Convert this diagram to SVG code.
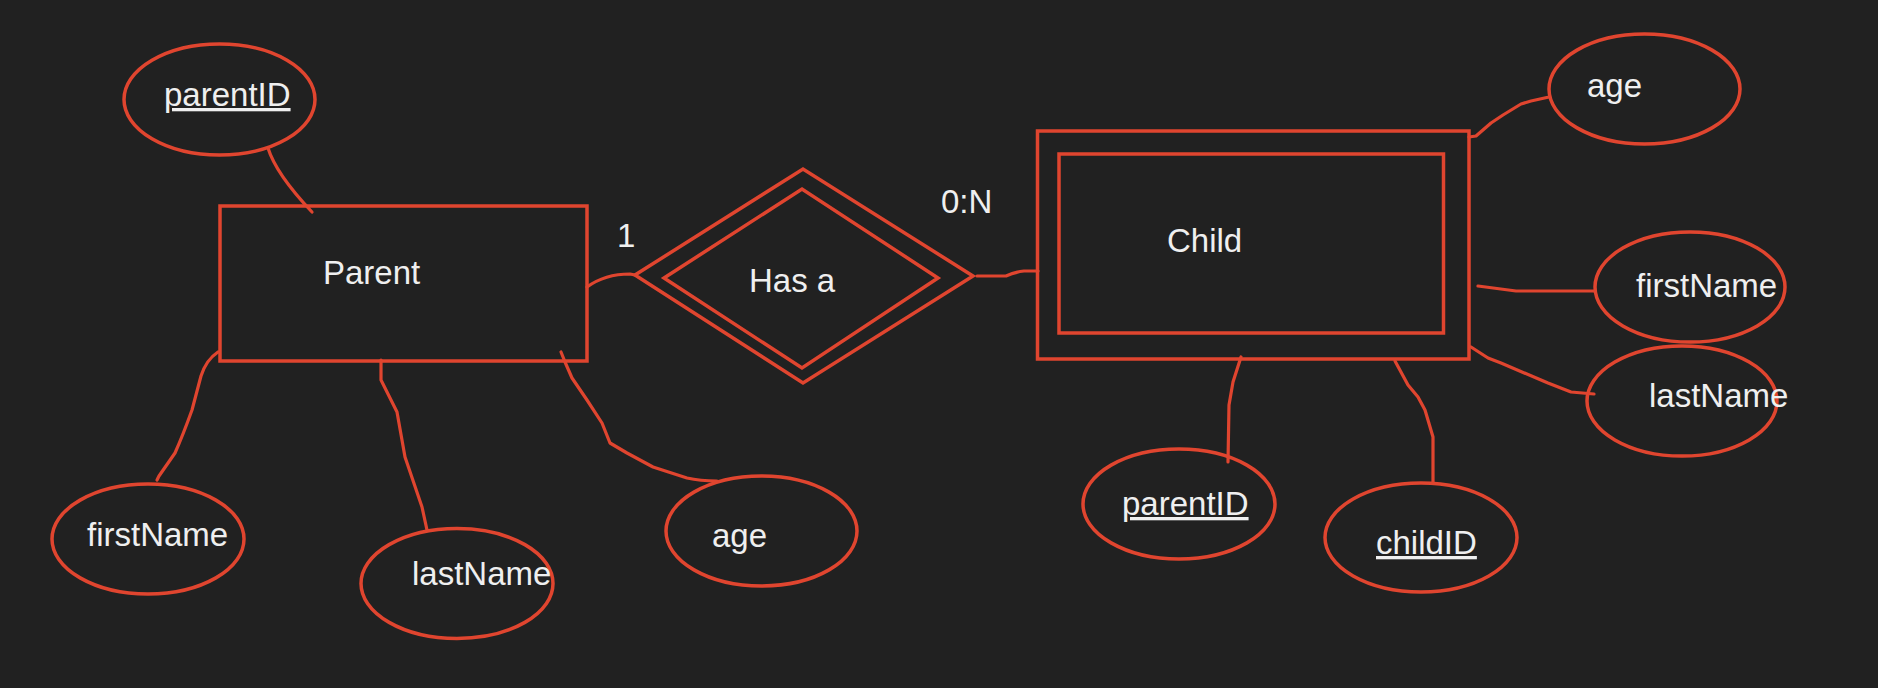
<svg xmlns="http://www.w3.org/2000/svg" width="1878" height="688" viewBox="0 0 1878 688">
<style>
.shape{fill:none;stroke:#e0452f;stroke-width:3.5;stroke-linejoin:miter}
.attr{fill:none;stroke:#e0452f;stroke-width:3.5}
.conn{fill:none;stroke:#e0452f;stroke-width:3.2;stroke-linecap:round;stroke-linejoin:round}
.lbl{font-family:"Liberation Sans",Arial,Helvetica,sans-serif;font-size:33px;fill:#efefef}
.key{text-decoration:underline}
</style>
<rect x="0" y="0" width="1878" height="688" fill="#212121"/>
<g id="connectors">
<path class="conn" d="M268,148 Q276,174 312,212"/>
<path class="conn" d="M587,287 Q605,274 630,274 L635,275"/>
<path class="conn" d="M977,276 L1006,276 Q1015,272 1024,271 L1038,271"/>
<path class="conn" d="M218,352 Q206,360 201,376 L192,410 Q183,435 175,453 L159,476 L157,480"/>
<path class="conn" d="M381,360 L381,380 L397,412 L405,457 L422,507 L427,530"/>
<path class="conn" d="M561,352 L565,362 L572,378 L587,400 L602,423 L610,443 L627,453 L653,467 L687,478 Q700,481 717,481"/>
<path class="conn" d="M1469,137 L1476,136 L1491,123 L1503,115 L1521,104 L1531,101 L1549,97"/>
<path class="conn" d="M1478,286 L1516,291 L1595,291"/>
<path class="conn" d="M1471,347 L1488,358 L1501,363 L1548,383 L1571,392 L1594,394"/>
<path class="conn" d="M1241,357 L1233,382 L1229,405 L1228,462"/>
<path class="conn" d="M1395,361 L1408,385 L1418,397 L1425,410 L1433,437 L1433,483"/>
<text class="lbl" x="617" y="247">1</text>
<text class="lbl" x="941" y="213">0:N</text>
</g>
<g id="parent">
<rect class="shape" x="220" y="206" width="367" height="155"/>
<text class="lbl" x="323" y="284">Parent</text>
</g>
<g id="has-a">
<polygon class="shape" points="635,275 803,169 973,276 803,383"/>
<polygon class="shape" points="664,278 802,189 938,278 802,368"/>
<text class="lbl" x="749" y="292">Has a</text>
</g>
<g id="child">
<rect class="shape" x="1037.5" y="131" width="431.5" height="228"/>
<rect class="shape" x="1059" y="154" width="384.5" height="179"/>
<text class="lbl" x="1167" y="252">Child</text>
</g>
<g id="parent-parentID">
<ellipse class="attr" cx="219.5" cy="99.5" rx="95.5" ry="55.5"/>
<text class="lbl key" x="164" y="106">parentID</text>
</g>
<g id="parent-firstName">
<ellipse class="attr" cx="148" cy="539" rx="96" ry="55"/>
<text class="lbl" x="87" y="546">firstName</text>
</g>
<g id="parent-lastName">
<ellipse class="attr" cx="457" cy="583.5" rx="96" ry="55"/>
<text class="lbl" x="412" y="585">lastName</text>
</g>
<g id="parent-age">
<ellipse class="attr" cx="761.5" cy="531" rx="95.5" ry="55"/>
<text class="lbl" x="712" y="547">age</text>
</g>
<g id="child-age">
<ellipse class="attr" cx="1644.5" cy="89" rx="95.5" ry="55"/>
<text class="lbl" x="1587" y="97">age</text>
</g>
<g id="child-firstName">
<ellipse class="attr" cx="1690" cy="287" rx="95" ry="55"/>
<text class="lbl" x="1636" y="297">firstName</text>
</g>
<g id="child-lastName">
<ellipse class="attr" cx="1682" cy="401" rx="95" ry="55"/>
<text class="lbl" x="1649" y="407">lastName</text>
</g>
<g id="child-parentID">
<ellipse class="attr" cx="1179" cy="504" rx="96" ry="55"/>
<text class="lbl key" x="1122" y="515">parentID</text>
</g>
<g id="child-childID">
<ellipse class="attr" cx="1421" cy="537.5" rx="96" ry="54.5"/>
<text class="lbl key" x="1376" y="554">childID</text>
</g>
</svg>
